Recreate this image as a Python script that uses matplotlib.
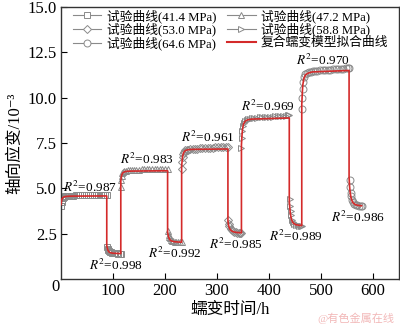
import matplotlib
matplotlib.use('Agg')
import matplotlib.pyplot as plt
from matplotlib.lines import Line2D

plt.rcParams['font.family'] = ['Liberation Serif', 'Noto Sans CJK SC', 'DejaVu Serif']
plt.rcParams['mathtext.fontset'] = 'stix'

# experimental data, time in h, strain in 1e-3
t1 = [0, 1, 2, 3, 5, 7, 10, 13, 16, 20, 24, 28, 32, 36, 40, 44, 48, 52, 56, 60, 64, 68, 72, 76, 80, 84, 88]
e1 = [4.05, 4.25, 4.38, 4.46, 4.52, 4.55, 4.57, 4.58, 4.59, 4.60, 4.60, 4.61, 4.61, 4.61, 4.62, 4.62,
      4.62, 4.62, 4.63, 4.63, 4.63, 4.63, 4.64, 4.64, 4.64, 4.64, 4.65]
t1u = [89, 90, 91, 92, 94, 96, 98, 101, 104, 107, 110, 113, 115]
e1u = [1.78, 1.68, 1.61, 1.56, 1.50, 1.47, 1.45, 1.43, 1.42, 1.41, 1.40, 1.40, 1.40]

t2 = [115, 116, 117, 118, 120, 122, 125, 128, 132, 136, 140, 145, 150, 155, 160, 165, 170, 175, 180,
      185, 190, 195, 200, 205]
e2 = [5.10, 5.45, 5.68, 5.82, 5.92, 5.96, 5.98, 6.00, 6.01, 6.02, 6.02, 6.03, 6.03, 6.04, 6.04, 6.04,
      6.05, 6.05, 6.05, 6.05, 6.06, 6.06, 6.06, 6.06]
t2u = [206, 207, 208, 209, 211, 213, 216, 219, 222, 225, 228, 232]
e2u = [2.62, 2.45, 2.34, 2.26, 2.17, 2.12, 2.08, 2.06, 2.05, 2.04, 2.04, 2.03]

t3 = [232, 233, 234, 235, 237, 239, 242, 245, 249, 253, 257, 262, 267, 272, 277, 282, 287, 292, 297,
      302, 307, 312, 317, 321]
e3 = [6.05, 6.45, 6.72, 6.90, 7.03, 7.09, 7.12, 7.14, 7.16, 7.17, 7.18, 7.19, 7.20, 7.21, 7.22, 7.23,
      7.24, 7.25, 7.26, 7.27, 7.28, 7.29, 7.30, 7.30]
t3u = [322, 323, 324, 326, 328, 330, 333, 336, 339, 342, 345, 347]
e3u = [3.25, 3.05, 2.92, 2.78, 2.70, 2.64, 2.60, 2.58, 2.56, 2.55, 2.55, 2.55]

t4 = [347, 348, 349, 350, 352, 354, 357, 360, 364, 368, 372, 377, 382, 387, 392, 397, 402, 407, 412,
      417, 422, 427, 432, 436, 439]
e4 = [7.20, 7.75, 8.15, 8.42, 8.62, 8.72, 8.78, 8.82, 8.85, 8.87, 8.88, 8.90, 8.91, 8.92, 8.93, 8.94,
      8.95, 8.96, 8.97, 8.98, 8.99, 9.00, 9.01, 9.02, 9.03]
t4u = [440, 441, 442, 443, 445, 447, 449, 452, 455, 458, 461, 463]
e4u = [4.40, 4.05, 3.75, 3.52, 3.28, 3.14, 3.06, 3.00, 2.97, 2.95, 2.95, 2.94]

t5 = [463, 464, 465, 466, 468, 470, 473, 476, 480, 484, 488, 493, 498, 503, 508, 513, 518, 523, 528,
      533, 538, 543, 548, 552, 554]
e5 = [9.35, 10.00, 10.50, 10.85, 11.15, 11.28, 11.36, 11.40, 11.43, 11.45, 11.47, 11.49, 11.50, 11.52,
      11.53, 11.54, 11.55, 11.56, 11.57, 11.58, 11.59, 11.60, 11.62, 11.63, 11.65]
t5u = [555, 556, 557, 558, 560, 562, 564, 567, 570, 573, 576, 578]
e5u = [5.45, 5.05, 4.75, 4.55, 4.35, 4.22, 4.15, 4.10, 4.07, 4.05, 4.04, 4.04]

# composite creep model fit
fit_t = [0, 1, 2, 4, 7, 12, 20, 88,
         88, 89, 90, 92, 95, 100, 108, 115,
         115, 116, 117, 119, 122, 127, 135, 205,
         205, 206, 207, 209, 212, 217, 225, 232,
         232, 233, 234, 236, 239, 244, 252, 321,
         321, 322, 323, 325, 328, 333, 340, 347,
         347, 348, 349, 351, 354, 359, 367, 439,
         439, 440, 441, 443, 446, 451, 458, 463,
         463, 464, 465, 467, 470, 475, 483, 554,
         554, 555, 556, 558, 561, 566, 573, 578]
fit_e = [4.10, 4.30, 4.42, 4.50, 4.54, 4.56, 4.57, 4.58,
         1.85, 1.70, 1.60, 1.50, 1.45, 1.42, 1.41, 1.40,
         5.40, 5.62, 5.75, 5.86, 5.91, 5.94, 5.95, 5.97,
         2.60, 2.42, 2.30, 2.18, 2.10, 2.06, 2.04, 2.03,
         6.20, 6.55, 6.78, 6.98, 7.08, 7.13, 7.15, 7.17,
         3.20, 3.00, 2.88, 2.74, 2.65, 2.59, 2.56, 2.55,
         7.40, 7.90, 8.25, 8.55, 8.70, 8.78, 8.82, 8.88,
         4.30, 3.90, 3.62, 3.30, 3.10, 3.00, 2.96, 2.95,
         9.60, 10.25, 10.70, 11.05, 11.25, 11.35, 11.42, 11.50,
         5.60, 5.10, 4.78, 4.45, 4.22, 4.10, 4.05, 4.04]

stresses = ['41.4', '47.2', '53.0', '58.8', '64.6']
markers = ['s', '^', 'D', '>', 'o']
r2_vals = ['0.987', '0.998', '0.983', '0.992', '0.961', '0.985', '0.969', '0.989', '0.970', '0.986']
r2_pos = [(56, 5.05), (106, 0.76), (166, 6.6), (219, 1.4), (283, 7.8),
          (336, 1.9), (398, 9.5), (452, 2.34), (504, 12.07), (571, 3.42)]

fig = plt.figure(figsize=(4.0, 3.26), dpi=100)
ax = fig.add_axes([0.1525, 0.1442, 0.845, 0.8343])

gray = '#8a8a8a'
stages = [(t1, e1, t1u, e1u), (t2, e2, t2u, e2u), (t3, e3, t3u, e3u), (t4, e4, t4u, e4u), (t5, e5, t5u, e5u)]
for (ta, ea, tb, eb), m in zip(stages, markers):
    ms = 4 if m == 'D' else 5
    ax.plot(ta + tb, ea + eb, linestyle='none', marker=m, ms=ms, mfc='none', mec=gray, mew=0.7, zorder=2)

ax.plot(fit_t, fit_e, color='#d42a2a', lw=1.2, zorder=3)

for s, (x, y) in zip(r2_vals, r2_pos):
    ax.text(x, y, '$R^2$=' + s, fontsize=9.5, ha='center', va='center')

handles = []
for m, s in zip(markers, stresses):
    handles.append(Line2D([], [], color=gray, lw=0.8, marker=m, ms=4 if m == 'D' else 5,
                          mfc='white', mec=gray, mew=0.7, label='试验曲线(' + s + ' MPa)'))
fit_h = Line2D([], [], color='#d42a2a', lw=1.5, label='复合蠕变模型拟合曲线')
order = [handles[0], handles[2], handles[4], handles[1], handles[3], fit_h]
ax.legend(handles=order, ncol=2, loc='upper left', frameon=False, fontsize=9.2,
          bbox_to_anchor=(0.01, 1.025), handlelength=2.2, handletextpad=0.4,
          labelspacing=0.0, columnspacing=0.9, borderaxespad=0.3)

ax.set_xlim(0, 650)
ax.set_ylim(0, 15)
ax.set_xticks([100, 200, 300, 400, 500, 600])
ax.set_yticks([2.5, 5.0, 7.5, 10.0, 12.5, 15.0])
ax.set_yticklabels(['2.5', '5.0', '7.5', '10.0', '12.5', '15.0'])
ax.tick_params(direction='in', length=4, width=0.8, labelsize=12, pad=3)
ax.annotate('0', xy=(0, 0), xycoords='data', xytext=(-6, -8), textcoords='offset pixels',
            fontsize=12, ha='center', va='center')
for sp in ax.spines.values():
    sp.set_linewidth(1.0)
    sp.set_color('#333333')

ax.set_xlabel('蠕变时间/h', fontsize=12, labelpad=2)
ax.set_ylabel('轴向应变/10⁻³', fontsize=12, labelpad=3)

fig.text(0.985, 0.025, '@有色金属在线', fontsize=8, color='#f2b8b8', ha='right', va='center')

fig.savefig('out.png', dpi=100)
